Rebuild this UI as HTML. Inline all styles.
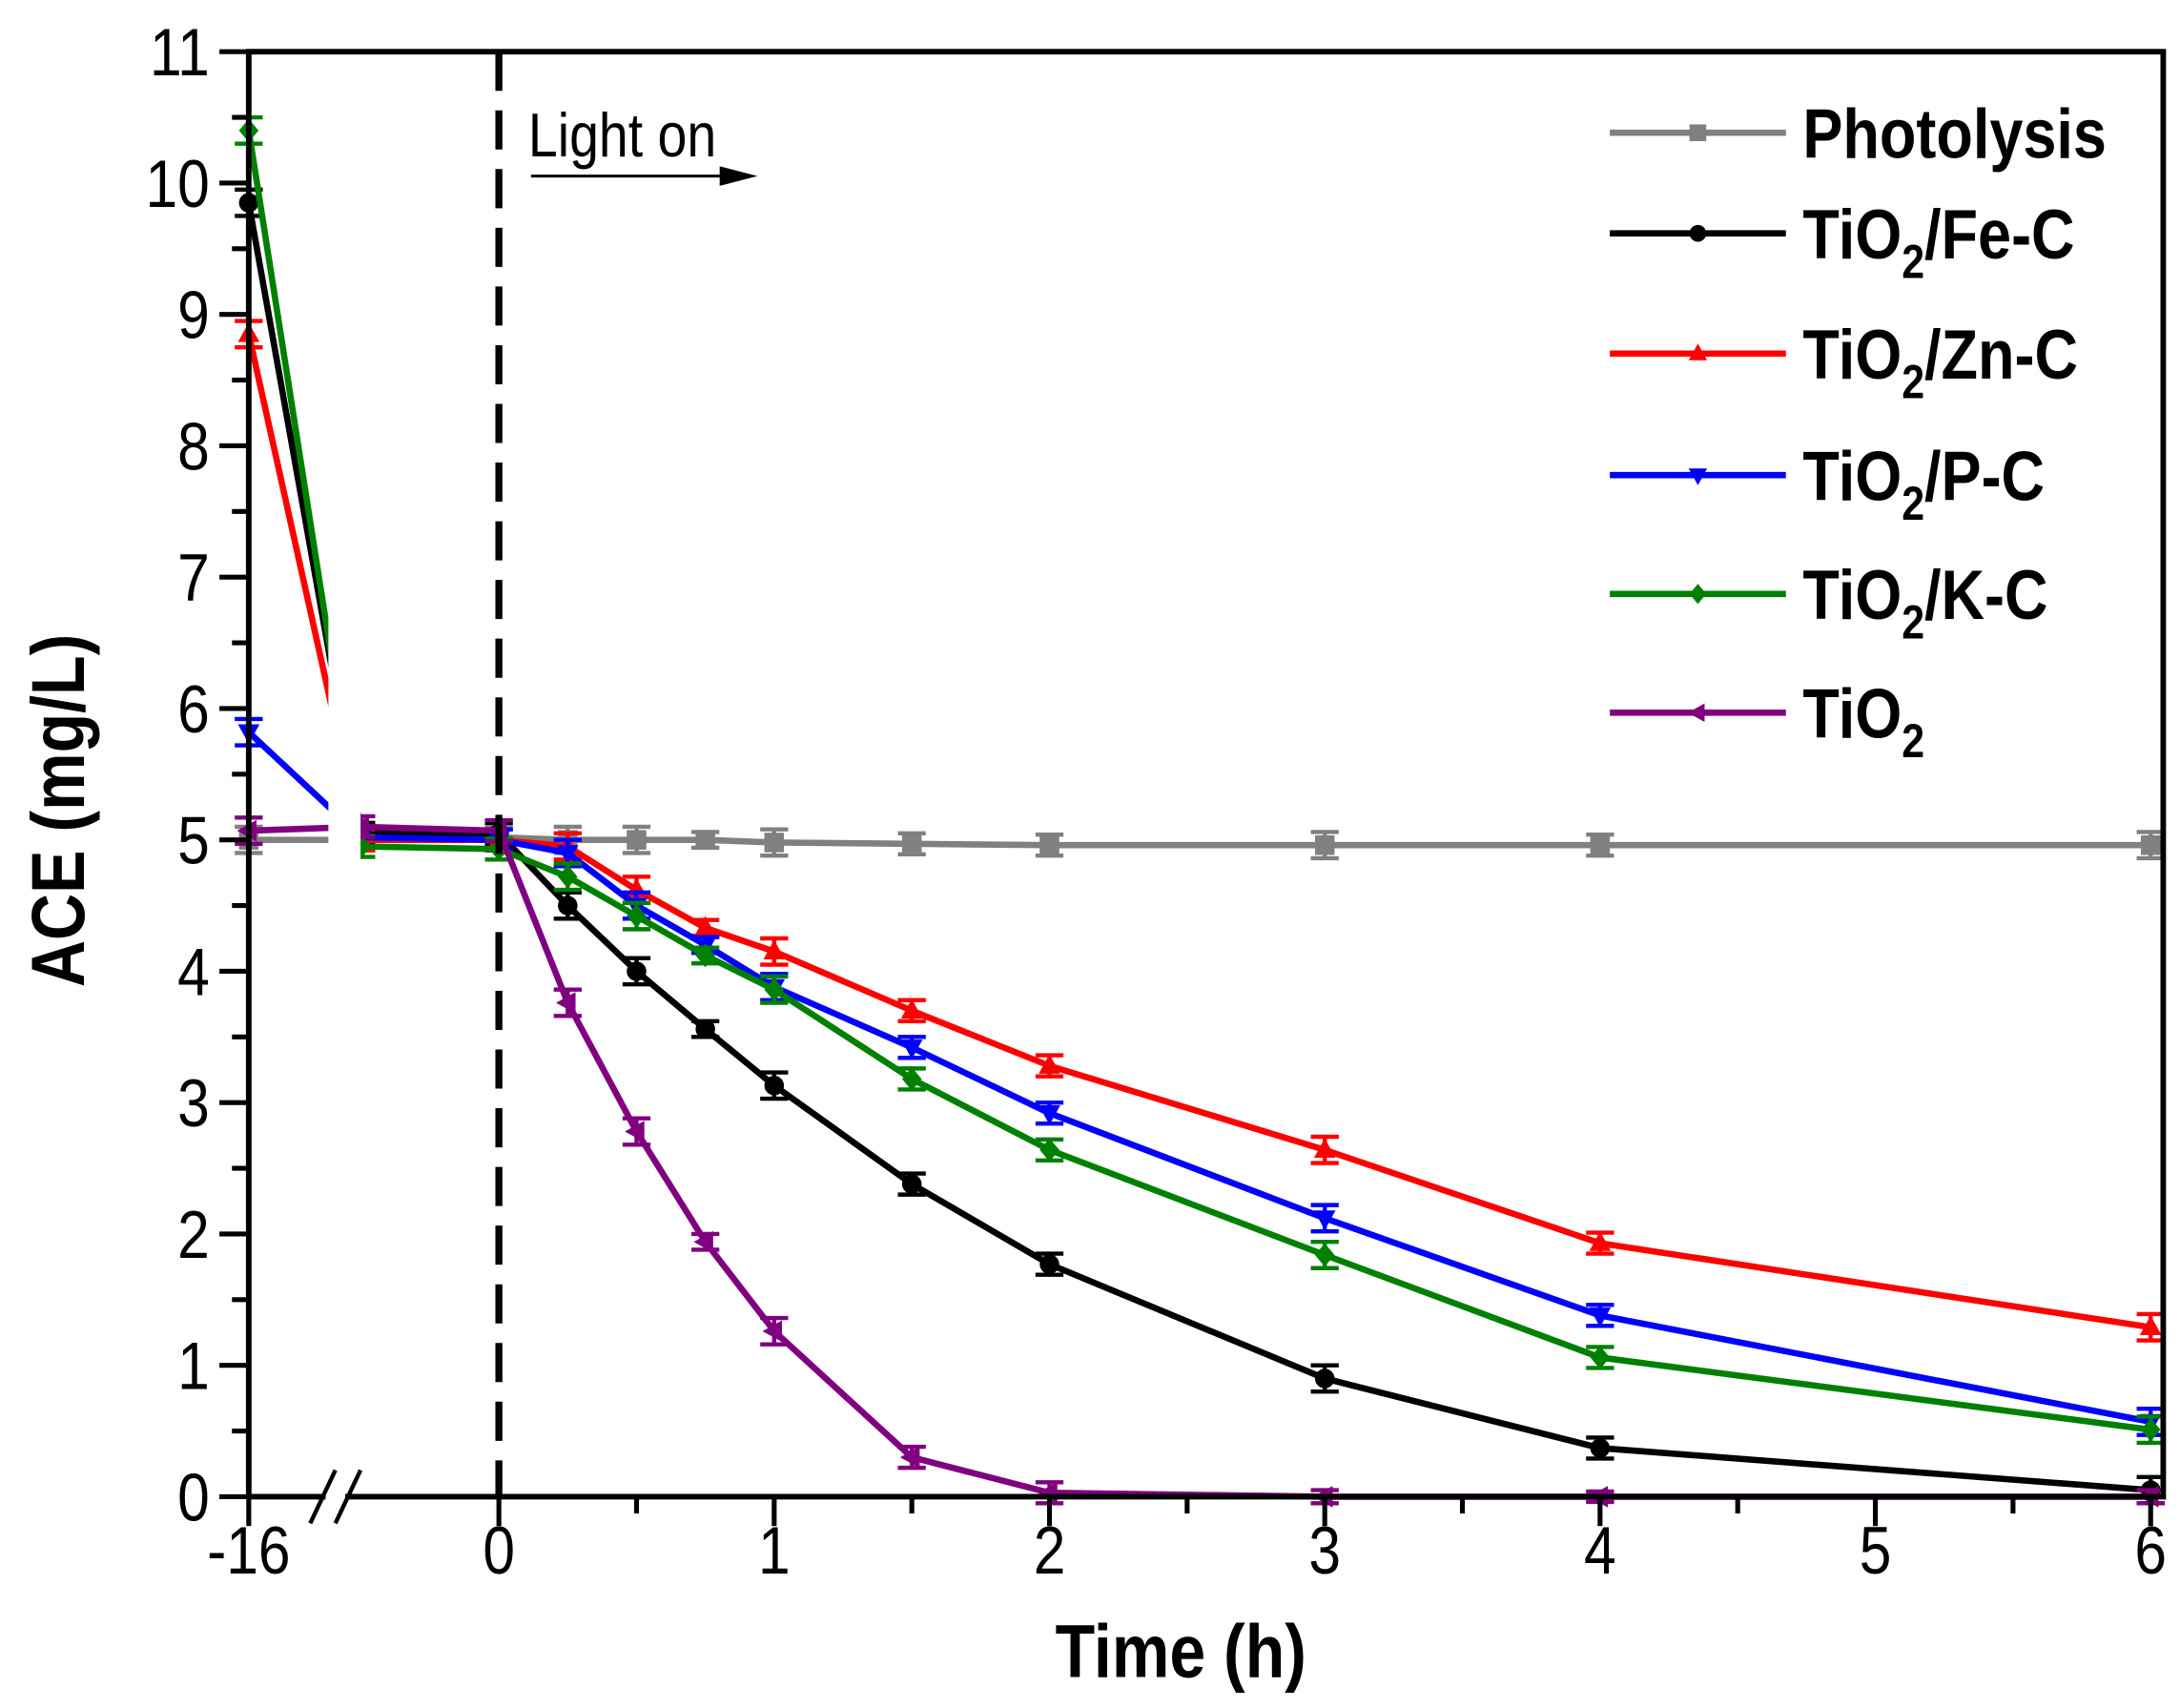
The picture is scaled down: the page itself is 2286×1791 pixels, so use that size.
<!DOCTYPE html>
<html><head><meta charset="utf-8"><style>
html,body{margin:0;padding:0;background:#fff;}
svg{display:block;font-family:"Liberation Sans",Arial,sans-serif;}
</style></head><body>
<svg id="chart" width="2286" height="1791" viewBox="0 0 1560 1222.2" preserveAspectRatio="none" xmlns="http://www.w3.org/2000/svg">
<g id="plot"></g>
</svg>
<script>
const times = [-16, -0.5, 0, 0.25, 0.5, 0.75, 1, 1.5, 2, 3, 4, 6];
const photolysis = [5.0, 5.0, 5.02, 5.0, 5.0, 5.0, 4.98, 4.97, 4.96, 4.96, 4.96, 4.96];
const feC = [9.85, 5.05, 5.05, 4.5, 4.0, 3.56, 3.13, 2.38, 1.77, 0.9, 0.37, 0.05];
const znC = [8.85, 5.0, 5.0, 4.95, 4.62, 4.33, 4.15, 3.7, 3.28, 2.64, 1.93, 1.29];
const pC = [5.82, 5.02, 5.0, 4.9, 4.5, 4.2, 3.88, 3.42, 2.92, 2.12, 1.38, 0.57];
const kC = [10.4, 4.95, 4.93, 4.72, 4.42, 4.12, 3.86, 3.18, 2.64, 1.84, 1.06, 0.51];
const tio2 = [5.07, 5.1, 5.07, 3.76, 2.78, 1.94, 1.26, 0.3, 0.03, 0.0, 0.0, 0.0];
const errs = [0.1, 0.08, 0.08, 0.1, 0.1, 0.06, 0.1, 0.08, 0.08, 0.1, 0.08, 0.1];
const yTicks = [0,1,2,3,4,5,6,7,8,9,10,11];
const xTickVals = [-16,0,1,2,3,4,5,6];
const xTickLabels = ["-16","0","1","2","3","4","5","6"];

const L=178,R=1548,T=37,B=1071;
function X(t){ return t<=-16 ? L : 357 + 197*t; }
function Y(v){ return B - (B-T)*v/11; }
const NS="http://www.w3.org/2000/svg";
const g=document.getElementById('plot');
function mk(tag,attrs,parent){const e=document.createElementNS(NS,tag);for(const k in attrs)e.setAttribute(k,attrs[k]);(parent||g).appendChild(e);return e;}
function txt(x,y,attrs,parent,rot){
  const a=Object.assign({x:0,y:0},attrs);
  a.transform=`translate(${x},${y})`+(rot?' rotate(-90)':'')+' scale(0.86,1)';
  return mk('text',a,parent);
}

const series=[
 {name:'photolysis',label:'Photolysis',sub:'',color:'#808080',data:photolysis,m:'square'},
 {name:'tio2-fe-c',label:'TiO',sub:'/Fe-C',color:'#000000',data:feC,m:'circle'},
 {name:'tio2-zn-c',label:'TiO',sub:'/Zn-C',color:'#ff0000',data:znC,m:'up'},
 {name:'tio2-p-c',label:'TiO',sub:'/P-C',color:'#0000ff',data:pC,m:'down'},
 {name:'tio2-k-c',label:'TiO',sub:'/K-C',color:'#008000',data:kC,m:'diamond'},
 {name:'tio2',label:'TiO',sub:'',color:'#800080',data:tio2,m:'left'}
];
function marker(type,x,y,c,parent,s){
  s=s||7;let e;
  if(type==='square') e=mk('rect',{x:x-s,y:y-s,width:2*s,height:2*s,fill:c},parent);
  else if(type==='circle') e=mk('circle',{cx:x,cy:y,r:s,fill:c},parent);
  else if(type==='up') e=mk('polygon',{points:`${x},${y-s*1.2} ${x-s*1.1},${y+s*0.8} ${x+s*1.1},${y+s*0.8}`,fill:c},parent);
  else if(type==='down') e=mk('polygon',{points:`${x},${y+s*1.2} ${x-s*1.1},${y-s*0.8} ${x+s*1.1},${y-s*0.8}`,fill:c},parent);
  else if(type==='diamond') e=mk('polygon',{points:`${x},${y-s*1.2} ${x+s},${y} ${x},${y+s*1.2} ${x-s},${y}`,fill:c},parent);
  else e=mk('polygon',{points:`${x-s*1.2},${y} ${x+s*0.8},${y-s*1.1} ${x+s*0.8},${y+s*1.1}`,fill:c},parent);
  return e;
}
series.forEach(s=>{
  const sg=mk('g',{});
  
  
  const pts=times.map((t,i)=>X(t)+','+Y(s.data[i])).join(' ');
  const ln=mk('polyline',{points:pts,fill:'none',stroke:s.color,'stroke-width':4.5,'stroke-linejoin':'round'},sg);
  
  
  times.forEach((t,i)=>{
    const x=X(t),y=Y(s.data[i]),e=errs[i]*(B-T)/11*(s.data[i]<0.02?0.5:1);
    const eb=mk('path',{d:`M${x},${y-e}V${y+e}M${x-10},${y-e}H${x+10}M${x-10},${y+e}H${x+10}`,stroke:s.color,'stroke-width':3,fill:'none'},sg);
    
    
    const m=marker(s.m,x,y,s.color,sg);
    
    
  });
});
mk('rect',{x:235,y:T,width:23,height:B-T-3,fill:'#fff',});
mk('line',{x1:357,y1:T,x2:357,y2:B,stroke:'#000','stroke-width':5,'stroke-dasharray':'28 14',});
mk('rect',{x:L,y:T,width:R-L,height:B-T,fill:'none',stroke:'#000','stroke-width':4,});
yTicks.forEach(v=>{
  mk('line',{x1:L-21,y1:Y(v),x2:L,y2:Y(v),stroke:'#000','stroke-width':3.5});
  if(v<11) mk('line',{x1:L-12,y1:Y(v+0.5),x2:L,y2:Y(v+0.5),stroke:'#000','stroke-width':3.5});
  const t=txt(150,Y(v)+17,{'font-size':48,'text-anchor':'end',fill:'#000'});
  t.textContent=v;
  
  
});
xTickVals.forEach((v,i)=>{
  mk('line',{x1:X(v),y1:B,x2:X(v),y2:B+21,stroke:'#000','stroke-width':3.5});
  if(v>=0&&v<6) mk('line',{x1:X(v+0.5),y1:B,x2:X(v+0.5),y2:B+12,stroke:'#000','stroke-width':3.5});
  const t=txt(X(v),1126,{'font-size':48,'text-anchor':'middle',fill:'#000'});
  t.textContent=xTickLabels[i];
  
  
});
mk('rect',{x:233,y:1066,width:14,height:10,fill:'#fff'});
mk('path',{d:'M222,1090L240,1052M240,1090L258,1052',stroke:'#000','stroke-width':3,fill:'none',});
let t=txt(845,1200,{'font-size':54,'font-weight':'bold','text-anchor':'middle',});t.textContent='Time (h)';
t=txt(60,580,{'font-size':54,'font-weight':'bold','text-anchor':'middle',},null,true);t.textContent='ACE (mg/L)';
t=txt(378,112,{'font-size':44,});t.textContent='Light on';
mk('line',{x1:380,y1:126,x2:520,y2:126,stroke:'#000','stroke-width':2});
mk('polygon',{points:'542,126 515,119 515,133',fill:'#000',});
const ly=[95,167,253,340,425,510];
series.forEach((s,i)=>{
  const lg=mk('g',{});
  
  
  mk('line',{x1:1152,y1:ly[i],x2:1278,y2:ly[i],stroke:s.color,'stroke-width':4.5},lg);
  marker(s.m,1215,ly[i],s.color,lg,6);
  const tx=txt(1290,ly[i]+18,{'font-size':50,'font-weight':'bold'},lg);
  if(s.label==='Photolysis'){tx.textContent='Photolysis';}
  else{
    tx.appendChild(document.createTextNode('TiO'));
    const sb=mk('tspan',{'font-size':34,dy:14},tx);sb.textContent='2';
    if(s.sub){const r=mk('tspan',{dy:-14},tx);r.textContent=s.sub;}
  }
});
</script>
</body></html>
